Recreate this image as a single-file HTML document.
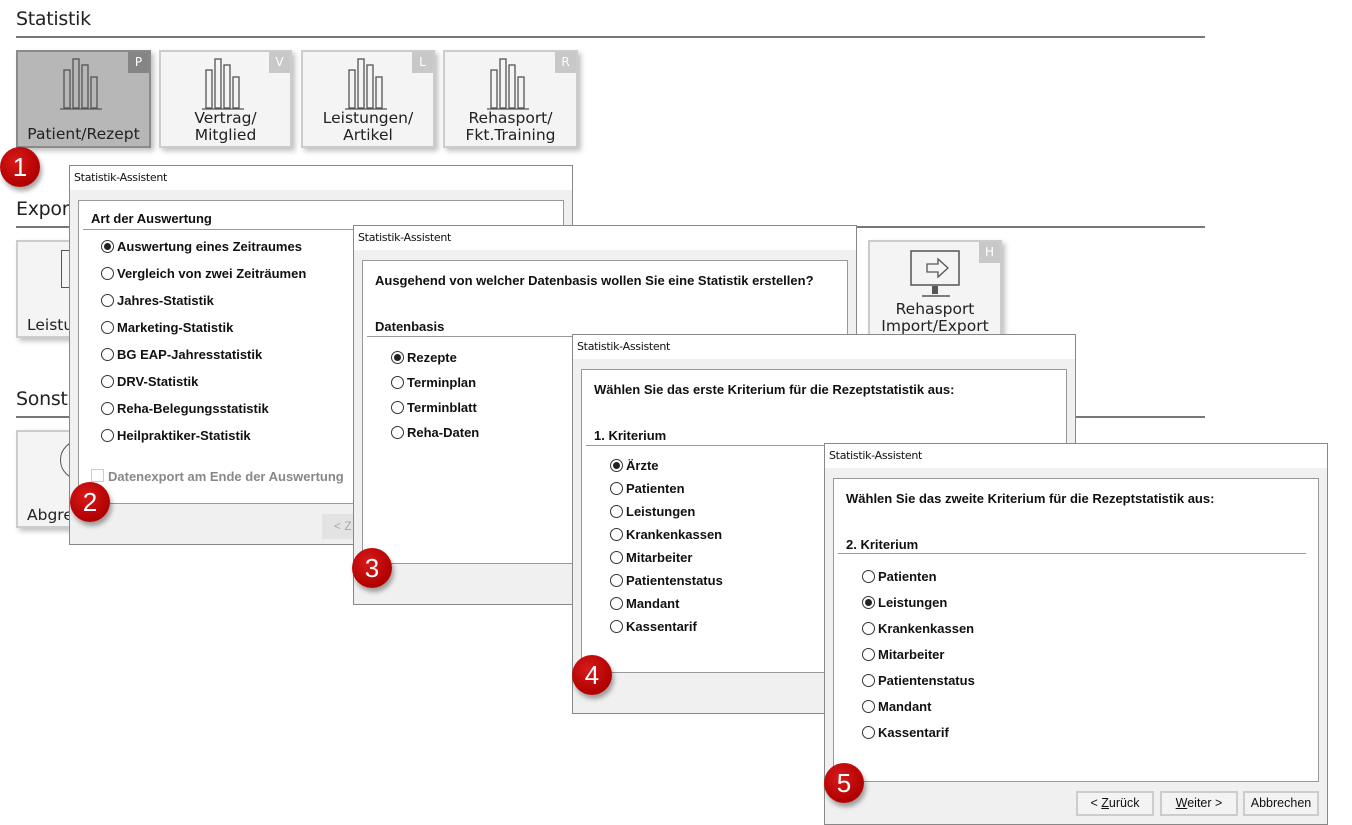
<!DOCTYPE html>
<html><head><meta charset="utf-8"><style>
*{box-sizing:border-box;margin:0;padding:0}
body{width:1352px;height:822px;background:#fff;position:relative;overflow:hidden;font-family:"Liberation Sans",Arial,sans-serif}
.h{position:absolute;left:16px;font-size:19px;color:#222;font-family:"DejaVu Sans","Liberation Sans",sans-serif;font-weight:normal;letter-spacing:-0.3px}
.ln{position:absolute;left:16px;width:1189px;height:2px;background:#777}
.tile{position:absolute;background:#f4f4f4;border:2px solid #ccc;box-shadow:3px 3px 5px rgba(0,0,0,.25);text-align:center;font-family:"DejaVu Sans","Liberation Sans",sans-serif;font-size:15.5px;color:#222;line-height:17px}
.tile.sel{background:#b7b7b7;border-color:#8a8a8a}
.tile .b{position:absolute;right:0;top:0;width:21px;height:21px;background:#c8c8c8;color:#fff;font-size:12px;line-height:21px}
.tile.sel .b{background:#858585}
.tile .t{position:absolute;left:0;right:0;bottom:2px}
.dlg{position:absolute;width:504px;height:380px;background:#f0f0f0;border:1px solid #888}
.dlg .ti{position:absolute;left:0;top:0;right:0;height:24px;background:#fff;font-size:11px;padding:5px 0 0 4px;color:#111;font-family:"DejaVu Sans","Liberation Sans",sans-serif;letter-spacing:-0.3px}
.dlg .in{position:absolute;left:8px;top:34px;width:486px;height:304px;background:#fff;border:1px solid #999}
.q{position:absolute;font-weight:bold;font-size:13px;color:#111}
.sl{position:absolute;height:1px;background:#999}
.r{position:absolute;font-weight:bold;font-size:13px;color:#111;padding-left:16px;line-height:15px}
.r:before{content:"";position:absolute;left:0;top:1px;width:11px;height:11px;border:1px solid #333;border-radius:50%;background:#fff}
.r.on:after{content:"";position:absolute;left:3px;top:4px;width:7px;height:7px;border-radius:50%;background:#222}
.num{position:absolute;width:40px;height:40px;border-radius:50%;background:radial-gradient(circle at 40% 35%,#d81a1a,#b00000 70%);color:#fff;font-size:26px;text-align:center;line-height:40px;box-shadow:2px 4px 5px rgba(0,0,0,.35);font-family:"Liberation Sans",sans-serif}
.btn{position:absolute;height:25px;border:2px solid #ccc;background:#f3f3f3;font-size:12.5px;text-align:center;line-height:21px;color:#111}
</style></head><body>
<div class="h" style="top:8px">Statistik</div>
<div class="ln" style="top:36px"></div>
<svg width="0" height="0" style="position:absolute"><defs><g id="bars" fill="none" stroke="#555" stroke-width="1.3"><rect x="4" y="12" width="6" height="38"/><rect x="13" y="1" width="6" height="49"/><rect x="22" y="7" width="6" height="43"/><rect x="31" y="19" width="6" height="31"/><line x1="0" y1="51" x2="42" y2="51"/></g></defs></svg>
<div class="tile sel" style="left:16px;top:50px;width:135px;height:98px"><div class="b">P</div><svg style="position:absolute;left:42px;top:6px" width="46" height="54"><use href="#bars"/></svg><div class="t" style="bottom:3px">Patient/Rezept</div></div>
<div class="tile" style="left:159px;top:50px;width:133px;height:98px"><div class="b">V</div><svg style="position:absolute;left:41px;top:6px" width="46" height="54"><use href="#bars"/></svg><div class="t">Vertrag/<br>Mitglied</div></div>
<div class="tile" style="left:301px;top:50px;width:134px;height:98px"><div class="b">L</div><svg style="position:absolute;left:42px;top:6px" width="46" height="54"><use href="#bars"/></svg><div class="t">Leistungen/<br>Artikel</div></div>
<div class="tile" style="left:443px;top:50px;width:135px;height:98px"><div class="b">R</div><svg style="position:absolute;left:42px;top:6px" width="46" height="54"><use href="#bars"/></svg><div class="t">Rehasport/<br>Fkt.Training</div></div>

<div class="h" style="top:198px">Export</div>
<div class="ln" style="top:226px"></div>
<div class="tile" style="left:16px;top:240px;width:140px;height:98px"><div class="t" style="text-align:left;padding-left:9px">Leistungen</div><div style="position:absolute;left:43px;top:8px;width:30px;height:38px;border:1.5px solid #555"></div></div>
<div class="tile" style="left:868px;top:240px;width:134px;height:98px"><div class="b">H</div>
<svg style="position:absolute;left:40px;top:8px" width="52" height="50"><rect x="1" y="1" width="48" height="34" fill="none" stroke="#555" stroke-width="1.5"/><path d="M17 14h11v-5l10 9-10 9v-5H17z" fill="none" stroke="#555" stroke-width="1.3"/><rect x="22" y="36" width="6" height="8" fill="#555"/><line x1="12" y1="46" x2="40" y2="46" stroke="#555" stroke-width="1.5"/></svg>
<div class="t" style="bottom:1px">Rehasport<br>Import/Export</div></div>

<div class="h" style="top:388px">Sonstiges</div>
<div class="ln" style="top:416px"></div>
<div class="tile" style="left:16px;top:430px;width:140px;height:98px"><div class="t" style="text-align:left;padding-left:9px">Abgrenzung</div><div style="position:absolute;left:42px;top:8px;width:40px;height:40px;border:1.5px solid #555;border-radius:50%"></div></div>

<div class="dlg" style="left:69px;top:165px"><div class="ti">Statistik-Assistent</div>
<div class="in"><div class="q" style="left:12px;top:10px">Art der Auswertung</div><div class="sl" style="left:4px;right:4px;top:28px"></div>
<div class="r on" style="left:22px;top:38px">Auswertung eines Zeitraumes</div>
<div class="r" style="left:22px;top:65px">Vergleich von zwei Zeiträumen</div>
<div class="r" style="left:22px;top:92px">Jahres-Statistik</div>
<div class="r" style="left:22px;top:119px">Marketing-Statistik</div>
<div class="r" style="left:22px;top:146px">BG EAP-Jahresstatistik</div>
<div class="r" style="left:22px;top:173px">DRV-Statistik</div>
<div class="r" style="left:22px;top:200px">Reha-Belegungsstatistik</div>
<div class="r" style="left:22px;top:227px">Heilpraktiker-Statistik</div>
<div style="position:absolute;left:12px;top:268px;width:13px;height:13px;border:1px solid #ccc"></div>
<div class="q" style="left:29px;top:268px;color:#888">Datenexport am Ende der Auswertung</div>
</div>
<div style="position:absolute;left:252px;top:348px;width:40px;height:25px;background:#e3e3e3;color:#aaa;font-size:12px;padding:5px 0 0 12px">&lt; Z</div>
</div>

<div class="dlg" style="left:353px;top:225px"><div class="ti">Statistik-Assistent</div>
<div class="in"><div class="q" style="left:12px;top:12px">Ausgehend von welcher Datenbasis wollen Sie eine Statistik erstellen?</div>
<div class="q" style="left:12px;top:58px">Datenbasis</div><div class="sl" style="left:4px;right:4px;top:75px"></div>
<div class="r on" style="left:28px;top:89px">Rezepte</div>
<div class="r" style="left:28px;top:114px">Terminplan</div>
<div class="r" style="left:28px;top:139px">Terminblatt</div>
<div class="r" style="left:28px;top:164px">Reha-Daten</div>
</div></div>

<div class="dlg" style="left:572px;top:334px"><div class="ti">Statistik-Assistent</div>
<div class="in"><div class="q" style="left:12px;top:12px">Wählen Sie das erste Kriterium für die Rezeptstatistik aus:</div>
<div class="q" style="left:12px;top:58px">1. Kriterium</div><div class="sl" style="left:4px;right:4px;top:75px"></div>
<div class="r on" style="left:28px;top:88px">Ärzte</div>
<div class="r" style="left:28px;top:111px">Patienten</div>
<div class="r" style="left:28px;top:134px">Leistungen</div>
<div class="r" style="left:28px;top:157px">Krankenkassen</div>
<div class="r" style="left:28px;top:180px">Mitarbeiter</div>
<div class="r" style="left:28px;top:203px">Patientenstatus</div>
<div class="r" style="left:28px;top:226px">Mandant</div>
<div class="r" style="left:28px;top:249px">Kassentarif</div>
</div></div>

<div class="dlg" style="left:824px;top:443px;height:382px"><div class="ti">Statistik-Assistent</div>
<div class="in"><div class="q" style="left:12px;top:12px">Wählen Sie das zweite Kriterium für die Rezeptstatistik aus:</div>
<div class="q" style="left:12px;top:58px">2. Kriterium</div><div class="sl" style="left:4px;right:12px;top:74px"></div>
<div class="r" style="left:28px;top:90px">Patienten</div>
<div class="r on" style="left:28px;top:116px">Leistungen</div>
<div class="r" style="left:28px;top:142px">Krankenkassen</div>
<div class="r" style="left:28px;top:168px">Mitarbeiter</div>
<div class="r" style="left:28px;top:194px">Patientenstatus</div>
<div class="r" style="left:28px;top:220px">Mandant</div>
<div class="r" style="left:28px;top:246px">Kassentarif</div>
</div>
<div class="btn" style="left:251px;top:347px;width:78px">&lt; <u>Z</u>urück</div>
<div class="btn" style="left:335px;top:347px;width:78px"><u>W</u>eiter &gt;</div>
<div class="btn" style="left:418px;top:347px;width:76px">Abbrechen</div>
</div>

<div class="num" style="left:0px;top:147px">1</div>
<div class="num" style="left:70px;top:482px">2</div>
<div class="num" style="left:352px;top:548px">3</div>
<div class="num" style="left:572px;top:655px">4</div>
<div class="num" style="left:824px;top:763px">5</div>
</body></html>
